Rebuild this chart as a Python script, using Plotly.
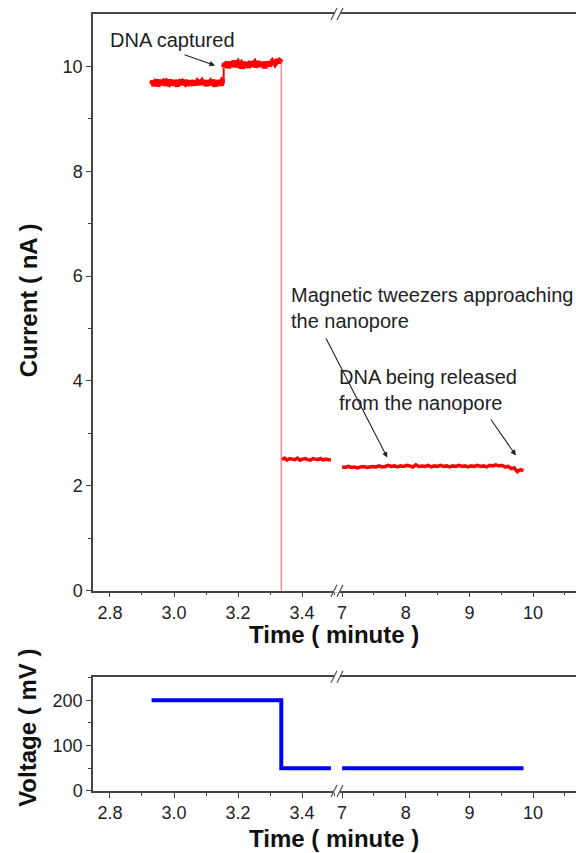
import numpy as np
import plotly.graph_objects as go

# ---------------- data ----------------
# current trace, segment before the break (minutes, nA)
seg_a_start, seg_a_end = 2.93, 3.155
seg_a_current = [9.66, 9.72, 9.63, 9.70, 9.75, 9.62, 9.69, 9.74, 9.65, 9.71, 9.67, 9.76,
                 9.63, 9.70, 9.68, 9.75, 9.64, 9.71, 9.66, 9.73, 9.69, 9.62, 9.72, 9.67,
                 9.75, 9.65, 9.70, 9.68, 9.74, 9.63, 9.71, 9.66, 9.72, 9.69, 9.64, 9.73,
                 9.67, 9.70, 9.65, 9.74, 9.68, 9.71, 9.66, 9.72, 9.69, 9.63, 9.73, 9.67,
                 9.70, 9.65, 9.74, 9.68, 9.62, 9.71, 9.66, 9.73, 9.69, 9.64, 9.72, 9.70]
seg_b_start, seg_b_end = 3.155, 3.335
seg_b_current = [9.98, 10.06, 10.01, 10.09, 9.97, 10.04, 10.08, 10.00, 10.05, 10.11, 9.99,
                 10.04, 10.07, 10.02, 10.10, 9.96, 10.05, 10.03, 10.08, 10.00, 10.06, 9.98,
                 10.04, 10.09, 10.01, 10.05, 10.07, 9.99, 10.03, 10.10, 10.02, 10.06, 10.00,
                 10.08, 10.04, 9.97, 10.06, 10.03, 10.09, 10.01, 10.05, 10.08, 10.03, 10.11,
                 10.06, 10.09, 10.13, 10.07, 10.12, 10.15]
drop_time = [3.335, 3.335]
drop_current = [10.12, 0.0]
seg_c_start, seg_c_end = 3.337, 3.49
seg_c_current = [2.50, 2.53, 2.49, 2.52, 2.51, 2.50, 2.53, 2.49, 2.51, 2.52,
                 2.50, 2.49, 2.52, 2.51, 2.50, 2.52, 2.49, 2.51, 2.50, 2.50]
# current trace after the break
seg_d_start, seg_d_end = 7.0, 9.85
seg_d_current = [2.36, 2.35, 2.37, 2.35, 2.36, 2.34, 2.36, 2.37, 2.35, 2.36,
                 2.37, 2.36, 2.38, 2.36, 2.37, 2.39, 2.37, 2.38, 2.36, 2.38,
                 2.37, 2.39, 2.38, 2.36, 2.40, 2.37, 2.38, 2.37, 2.39, 2.36,
                 2.38, 2.37, 2.39, 2.37, 2.38, 2.36, 2.38, 2.37, 2.39, 2.37,
                 2.38, 2.36, 2.38, 2.37, 2.39, 2.37, 2.38, 2.36, 2.39, 2.38,
                 2.40, 2.38, 2.39, 2.36, 2.37, 2.33, 2.34, 2.27, 2.31, 2.29]

# voltage (mV)
volt_left_time = [2.93, 3.335, 3.335, 3.49]
volt_left_mv = [200, 200, 50, 50]
volt_right_time = [7.0, 9.85]
volt_right_mv = [50, 50]

# axis ticks
left_ticks = [2.8, 3.0, 3.2, 3.4]
left_ticklabels = ["2.8", "3.0", "3.2", "3.4"]
right_ticks = [7, 8, 9, 10]
right_ticklabels = ["7", "8", "9", "10"]

# ---------------- layout helpers ----------------
W, H = 576, 853
FIG_H = 864          # rendered page height (picture is scaled to 853)
VS = FIG_H / H
def px(x):
    return x / W
def py(y):
    return 1 - y / H

FONT = "Liberation Sans, Arial, sans-serif"
TXT = "#222222"
AX = "#444444"

x_left_dom = [px(93), px(337)]
x_right_dom = [px(337), 1.0]
y_top_dom = [py(590), py(14)]
y_bot_dom = [py(790), py(676)]
x_left_range = [2.747, 3.509]
x_right_range = [6.92, 10.675]

def seg_times(t0, t1, vals):
    return np.linspace(t0, t1, len(vals))

fig = go.Figure()
red = "#ff0000"
for t0, t1, vals, xa, w in [(seg_a_start, seg_a_end, seg_a_current, "x", 5.5),
                            (seg_b_start, seg_b_end, seg_b_current, "x", 5.5),
                            (seg_c_start, seg_c_end, seg_c_current, "x", 3.5),
                            (seg_d_start, seg_d_end, seg_d_current, "x2", 3.5)]:
    fig.add_trace(go.Scatter(x=seg_times(t0, t1, vals), y=vals, mode="lines",
                             line=dict(color=red, width=w, simplify=False), xaxis=xa, yaxis="y",
                             showlegend=False, hoverinfo="skip"))
# step between captured levels and the drop
fig.add_trace(go.Scatter(x=[seg_a_end, seg_b_start], y=[seg_a_current[-1], seg_b_current[0]],
                         mode="lines", line=dict(color=red, width=2), xaxis="x", yaxis="y",
                         showlegend=False))
fig.add_trace(go.Scatter(x=drop_time, y=drop_current, mode="lines",
                         line=dict(color="rgba(255,60,60,0.6)", width=1.5),
                         xaxis="x", yaxis="y", showlegend=False))

blue = "#0000ff"
fig.add_trace(go.Scatter(x=volt_left_time, y=volt_left_mv, mode="lines",
                         line=dict(color=blue, width=4), xaxis="x3", yaxis="y2",
                         showlegend=False))
fig.add_trace(go.Scatter(x=volt_right_time, y=volt_right_mv, mode="lines",
                         line=dict(color=blue, width=4), xaxis="x4", yaxis="y2",
                         showlegend=False))

tickfont = dict(family=FONT, size=18, color=TXT)
common_x = dict(showline=True, linecolor=AX, linewidth=1.5, mirror=True, ticks="outside",
                ticklen=5, tickwidth=1.2, tickcolor=AX, showgrid=False, zeroline=False,
                tickfont=tickfont)
xl = dict(common_x, range=x_left_range, tickvals=left_ticks, ticktext=left_ticklabels,
          minor=dict(tickvals=[2.9, 3.1, 3.3, 3.5], ticklen=3, tickcolor=AX, ticks="outside"))
xr = dict(common_x, range=x_right_range, tickvals=right_ticks, ticktext=right_ticklabels,
          minor=dict(tickvals=[7.5, 8.5, 9.5, 10.5], ticklen=3, tickcolor=AX, ticks="outside"))
common_y = dict(showline=True, linecolor=AX, linewidth=1.5, mirror=False, ticks="outside",
                ticklen=5, tickwidth=1.2, tickcolor=AX, showgrid=False, zeroline=False,
                tickfont=tickfont)

fig.update_layout(
    width=W, height=FIG_H, margin=dict(l=0, r=0, t=0, b=0),
    paper_bgcolor="white", plot_bgcolor="white",
    xaxis=dict(xl, domain=x_left_dom, anchor="y"),
    xaxis2=dict(xr, domain=x_right_dom, anchor="y"),
    xaxis3=dict(xl, domain=x_left_dom, anchor="y2"),
    xaxis4=dict(xr, domain=x_right_dom, anchor="y2"),
    yaxis=dict(common_y, domain=y_top_dom, range=[0, 11], tickvals=[0, 2, 4, 6, 8, 10],
               minor=dict(tickvals=[1, 3, 5, 7, 9], ticklen=3, tickcolor=AX, ticks="outside"),
               anchor="x"),
    yaxis2=dict(common_y, domain=y_bot_dom, range=[0, 252], tickvals=[0, 100, 200],
                minor=dict(tickvals=[50, 150, 250], ticklen=3, tickcolor=AX, ticks="outside"),
                anchor="x3"),
    font=dict(family=FONT, color=TXT),
)

# axis titles
titlefont = dict(family=FONT, size=24, color="#111111")
def title_ann(text, x, y, angle=0):
    fig.add_annotation(text=text, x=px(x), y=py(y), xref="paper", yref="paper",
                       xanchor="center", yanchor="middle", textangle=angle,
                       showarrow=False, font=titlefont)
title_ann("<b>Current ( nA )</b>", 28, 300, -90)
title_ann("<b>Time ( minute )</b>", 334, 634)
title_ann("<b>Voltage ( mV )</b>", 28, 727, -90)
title_ann("<b>Time ( minute )</b>", 334, 838)

# text annotations
afont = dict(family=FONT, size=20, color=TXT)
fig.add_annotation(text="DNA captured", x=px(172), y=py(40), xref="paper", yref="paper",
                   xanchor="center", yanchor="middle", showarrow=False, font=afont)
fig.add_annotation(text="Magnetic tweezers approaching<br>the nanopore", x=px(289), y=py(308),
                   xref="paper", yref="paper", xanchor="left", yanchor="middle", align="left",
                   showarrow=False, font=afont)
fig.add_annotation(text="DNA being released<br>from the nanopore", x=px(337), y=py(390),
                   xref="paper", yref="paper", xanchor="left", yanchor="middle", align="left",
                   showarrow=False, font=afont)
# arrows
arrow = dict(showarrow=True, arrowhead=2, arrowsize=1, arrowwidth=1.1, arrowcolor="#222222", text="")
fig.add_annotation(x=3.128, y=10.02, xref="x", yref="y", ax=-32, ay=-11 * VS, **arrow)
fig.add_annotation(x=7.71, y=2.54, xref="x2", yref="y", ax=-62, ay=-119 * VS, **arrow)
fig.add_annotation(x=9.73, y=2.58, xref="x2", yref="y", ax=-26, ay=-37 * VS, **arrow)

# axis break marks
for yb in [14, 590, 676, 790]:
    fig.add_shape(type="rect", x0=px(334), x1=px(340), y0=py(yb + 2), y1=py(yb - 2),
                  xref="paper", yref="paper", fillcolor="white", line=dict(width=0))
    for xc in [334, 340]:
        fig.add_shape(type="line", x0=px(xc - 3), y0=py(yb + 6), x1=px(xc + 3), y1=py(yb - 6),
                      xref="paper", yref="paper", line=dict(color="#555555", width=1.3))

page_css = ("var s=document.createElement('style');"
            "s.innerHTML='html,body{margin:0;padding:0;overflow:hidden;}';"
            "document.head.appendChild(s);")
fig.write_html("out.html", config={"displayModeBar": False}, post_script=page_css)
